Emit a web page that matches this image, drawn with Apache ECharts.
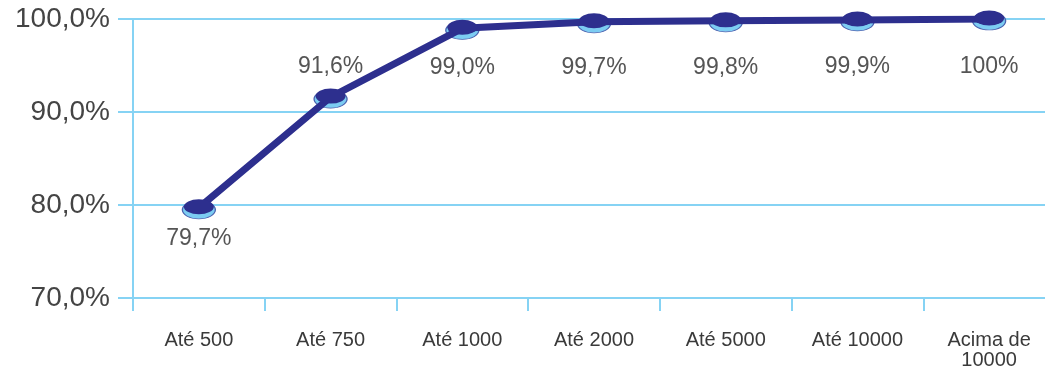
<!DOCTYPE html>
<html>
<head>
<meta charset="utf-8">
<script src="https://cdn.jsdelivr.net/npm/echarts@6/dist/echarts.min.js"></script>
<style>
  html, body { margin: 0; padding: 0; background: #fff; overflow: hidden; }
  /* the last category runs slightly past the right edge of the page */
  #chart { width: 1060px; height: 370px; }
</style>
</head>
<body>
<div id="chart"></div>
<script>
// Categories and cumulative share values
const categories = ['Até 500', 'Até 750', 'Até 1000', 'Até 2000', 'Até 5000', 'Até 10000', 'Acima de\n10000'];
const values = [79.7, 91.6, 99.0, 99.7, 99.8, 99.9, 100];
const valueLabels = ['79,7%', '91,6%', '99,0%', '99,7%', '99,8%', '99,9%', '100%'];
const yTicks = [70, 80, 90, 100];

// Vertical offset of each value label from its point (px)
const labelShift = [32, -29, 40, 47, 48, 48, 49];

const gridBlue = '#86d3f4';
const navy = '#2d2f8e';
const font = 'Liberation Sans, Arial, sans-serif';
const ellipse = 'path://M0,10 A20,10 0 1,0 40,10 A20,10 0 1,0 0,10 Z';

const chart = echarts.init(document.getElementById('chart'), null, { renderer: 'canvas' });

chart.setOption({
  animation: false,
  grid: { left: 133, top: 19, bottom: 72, right: 5 },
  xAxis: {
    type: 'category',
    data: categories,
    boundaryGap: true,
    axisLine: { show: true, lineStyle: { color: gridBlue, width: 2 } },
    axisTick: { show: true, length: 13, lineStyle: { color: gridBlue, width: 2 } },
    axisLabel: {
      margin: 32,
      fontFamily: font,
      fontSize: 20,
      color: '#3a3a3a',
      lineHeight: 20,
      verticalAlign: 'top',
      align: 'center'
    },
    splitLine: { show: false }
  },
  yAxis: {
    type: 'value',
    min: yTicks[0],
    max: yTicks[yTicks.length - 1],
    interval: 10,
    axisLine: { show: true, lineStyle: { color: gridBlue, width: 2 } },
    axisTick: { show: true, length: 15, lineStyle: { color: gridBlue, width: 2 } },
    axisLabel: {
      margin: 23,
      fontFamily: font,
      fontSize: 28,
      color: '#444',
      padding: [5, 0, 0, 0],
      formatter: v => v.toFixed(1).replace('.', ',') + '%'
    },
    splitLine: { show: true, lineStyle: { color: gridBlue, width: 2 } }
  },
  series: [
    {
      // light blue rim under each marker
      type: 'line',
      data: values,
      lineStyle: { width: 0, opacity: 0 },
      symbol: ellipse,
      symbolSize: [33, 18],
      symbolOffset: [0, 2],
      itemStyle: { color: '#7cccf2', borderColor: '#4a62b0', borderWidth: 1 },
      z: 2,
      silent: true
    },
    {
      type: 'line',
      data: values.map((v, i) => ({
        value: v,
        label: {
          show: true,
          position: 'inside',
          offset: [0, labelShift[i]],
          formatter: valueLabels[i]
        }
      })),
      lineStyle: { color: navy, width: 7 },
      symbol: ellipse,
      symbolSize: [30, 15],
      symbolOffset: [0, -1],
      itemStyle: { color: navy, borderColor: navy, borderWidth: 0 },
      label: {
        fontFamily: font,
        fontSize: 23,
        color: '#555'
      },
      z: 3
    }
  ]
});
</script>
</body>
</html>
